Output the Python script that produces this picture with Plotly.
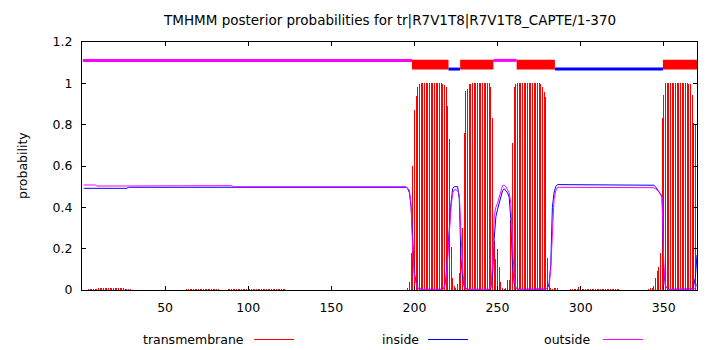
import plotly.graph_objects as go

# Sequence length and residue positions
seq_len = 370
residues = list(range(1, seq_len + 1))

# Posterior probabilities per residue, stored as (count, value) runs
tm_runs = [
    (3, 0), (6, .005), (16, .008), (4, .005), (33, 0), (20, .004), (5, 0),
    (35, .004), (73, 0),
    (1, .01), (1, .04), (1, .18), (1, .60), (1, .87), (1, .94), (1, .983), (1, .995),
    (13, 1.0),
    (1, .995), (1, .99), (1, .98), (1, .89), (1, .73), (1, .21), (1, .06), (1, .02),
    (1, .01), (1, .03), (1, .08), (1, .24), (1, .30), (1, .76), (1, .964), (1, .974),
    (1, .995), (1, .997),
    (11, 1.0),
    (1, .98), (1, .83), (1, .235), (1, .15), (1, .20), (1, .11), (1, .04), (1, .01),
    (1, .005), (1, .01), (1, .05), (1, .05), (1, .34), (1, .71), (1, .98), (1, .995),
    (14, 1.0),
    (1, .995), (1, .98), (1, .96), (1, .935), (1, .156), (1, .03), (1, .01), (1, .005),
    (3, .008), (7, 0), (5, .004), (1, .015), (24, .004), (17, 0),
    (1, .005), (1, .008), (1, .01), (1, .02), (1, .06), (1, .09), (1, .11), (1, .18),
    (1, .834), (1, .945),
    (14, 1.0),
    (1, .995), (1, .995), (1, .945), (1, .81), (1, .80),
]

inside_runs = [
    (27, .492), (168, .497),
    (1, .49), (1, .47), (1, .40), (1, .21), (1, .08), (1, .04), (1, .012), (1, .005),
    (14, .003),
    (1, .015), (1, .06), (1, .18), (1, .32), (1, .42), (1, .49), (1, .50), (1, .50),
    (1, .50), (1, .44), (1, .15), (1, .06), (1, .015), (1, .008),
    (14, .003),
    (1, .01), (1, .07), (1, .25), (1, .355), (1, .39), (1, .42), (1, .45), (1, .48),
    (1, .49), (1, .478), (1, .47), (1, .45), (1, .34), (1, .12), (1, .03), (1, .012),
    (1, .005),
    (16, .003),
    (1, .005), (1, .01), (1, .03), (1, .12), (1, .40), (1, .47), (1, .50),
    (58, .51),
    (1, .507), (1, .50), (1, .49), (1, .475), (1, .465), (1, .45), (1, .10), (1, .02),
    (1, .008),
    (14, .003),
    (1, .005), (1, .02), (1, .06), (1, .17),
]

outside_runs = [
    (8, .508), (19, .503), (63, .505), (105, .500),
    (1, .492), (1, .48), (1, .41), (1, .18), (1, .06), (1, .03), (1, .008), (1, .004),
    (14, .003),
    (1, .01), (1, .05), (1, .15), (1, .30), (1, .40), (1, .47), (1, .485), (1, .485),
    (1, .48), (1, .46), (1, .24), (1, .10), (1, .02), (1, .008),
    (14, .003),
    (1, .02), (1, .12), (1, .36), (1, .40), (1, .42), (1, .45), (1, .485), (1, .505),
    (1, .508), (1, .50), (1, .485), (1, .47), (1, .42), (1, .20), (1, .06), (1, .01),
    (1, .004),
    (16, .003),
    (1, .005), (1, .01), (1, .02), (1, .10), (1, .30), (1, .44), (1, .48),
    (58, .497),
    (1, .495), (1, .49), (1, .485), (1, .475), (1, .465), (1, .45), (1, .13), (1, .02),
    (1, .008),
    (15, .003),
    (1, .005), (1, .01), (1, .03),
]

# Predicted topology: (region, first residue, last residue)
topology = [
    ("outside", 1, 198),
    ("TMhelix", 199, 220),
    ("inside", 221, 227),
    ("TMhelix", 228, 247),
    ("outside", 248, 261),
    ("TMhelix", 262, 284),
    ("inside", 285, 349),
    ("TMhelix", 350, 370),
]
topo_levels = {"outside": 1.111, "inside": 1.069}
tm_box = (1.067, 1.114)

x_ticks = [50, 100, 150, 200, 250, 300, 350]
title_text = "TMHMM posterior probabilities for tr|R7V1T8|R7V1T8_CAPTE/1-370"

# a hair below full opacity so plotly snaps the thin impulse bars to whole pixels
RED_IMPULSE = "rgba(255,0,0,0.999)"
RED, BLUE, MAGENTA = "#ff0000", "#0000ff", "#ff00ff"
FONT = "DejaVu Sans"

L, R, T, B = 82, 13, 42, 60
W, H = 710, 350
pw, ph = W - L - R, H - T - B


def expand(runs):
    out = []
    for count, value in runs:
        out.extend([value] * count)
    return out


def px_x(px):
    return (px - L) / pw


def px_y(py):
    return (H - B - py) / ph


p_tm = expand(tm_runs)
p_in = expand(inside_runs)
p_out = expand(outside_runs)

# one-pixel-wide impulses
impulse_width = seq_len / pw

fig = go.Figure()

fig.add_trace(go.Bar(x=residues, y=p_tm, width=impulse_width,
                     marker=dict(color=RED_IMPULSE, line=dict(width=0)),
                     name="transmembrane"))
fig.add_trace(go.Scatter(x=residues, y=p_in, mode="lines", line=dict(color=BLUE, width=1),
                         name="inside"))
fig.add_trace(go.Scatter(x=residues, y=p_out, mode="lines", line=dict(color=MAGENTA, width=1),
                         name="outside"))

# topology bar along the top
for region, start, end in topology:
    x0, x1 = start - 0.5, end + 0.5
    if region == "TMhelix":
        fig.add_trace(go.Scatter(x=[x0, x1, x1, x0, x0],
                                 y=[tm_box[0], tm_box[0], tm_box[1], tm_box[1], tm_box[0]],
                                 mode="lines", fill="toself", fillcolor=RED,
                                 line=dict(width=0, color=RED), hoverinfo="skip"))
    else:
        col = BLUE if region == "inside" else MAGENTA
        lvl = topo_levels[region]
        fig.add_trace(go.Scatter(x=[x0, x1], y=[lvl, lvl], mode="lines",
                                 line=dict(color=col, width=3), hoverinfo="skip"))

axis_common = dict(
    showline=True, linecolor="black", linewidth=1, mirror="ticks",
    ticks="inside", ticklen=4, tickcolor="black", tickwidth=1,
    showgrid=False, zeroline=False,
    tickfont=dict(family=FONT, size=12.5, color="black"),
)

fig.update_layout(
    width=W, height=H,
    margin=dict(l=L, r=R, t=T, b=B, pad=0),
    paper_bgcolor="white", plot_bgcolor="white",
    showlegend=False, barmode="overlay", bargap=0,
    xaxis=dict(range=[0, seq_len], tickvals=x_ticks, ticklabelstandoff=6, **axis_common),
    yaxis=dict(range=[0, 1.2], dtick=0.2, tick0=0, ticklabelstandoff=6, **axis_common),
)

annotations = [
    dict(text=title_text, xref="paper", yref="paper", x=0.5, y=px_y(20),
         xanchor="center", yanchor="middle", showarrow=False,
         font=dict(family=FONT, size=13.5, color="black")),
    dict(text="probability", xref="paper", yref="paper", x=px_x(22), y=px_y(166),
         xanchor="center", yanchor="middle", textangle=-90, showarrow=False,
         font=dict(family=FONT, size=12.5, color="black")),
]

# legend: label followed by a line sample
legend_y = 339.5
legend_items = [("transmembrane", RED, 246, 254, 294),
                ("inside", BLUE, 421, 428, 468),
                ("outside", MAGENTA, 592, 603, 643)]
shapes = []
for label, col, text_right, lx0, lx1 in legend_items:
    annotations.append(dict(text=label, xref="paper", yref="paper", x=px_x(text_right), y=px_y(legend_y),
                            xanchor="right", yanchor="middle", showarrow=False,
                            font=dict(family=FONT, size=12.5, color="black")))
    shapes.append(dict(type="line", xref="paper", yref="paper", x0=px_x(lx0), x1=px_x(lx1),
                       y0=px_y(legend_y), y1=px_y(legend_y), line=dict(color=col, width=1)))

fig.update_layout(annotations=annotations, shapes=shapes)

fig.write_html("out.html")
